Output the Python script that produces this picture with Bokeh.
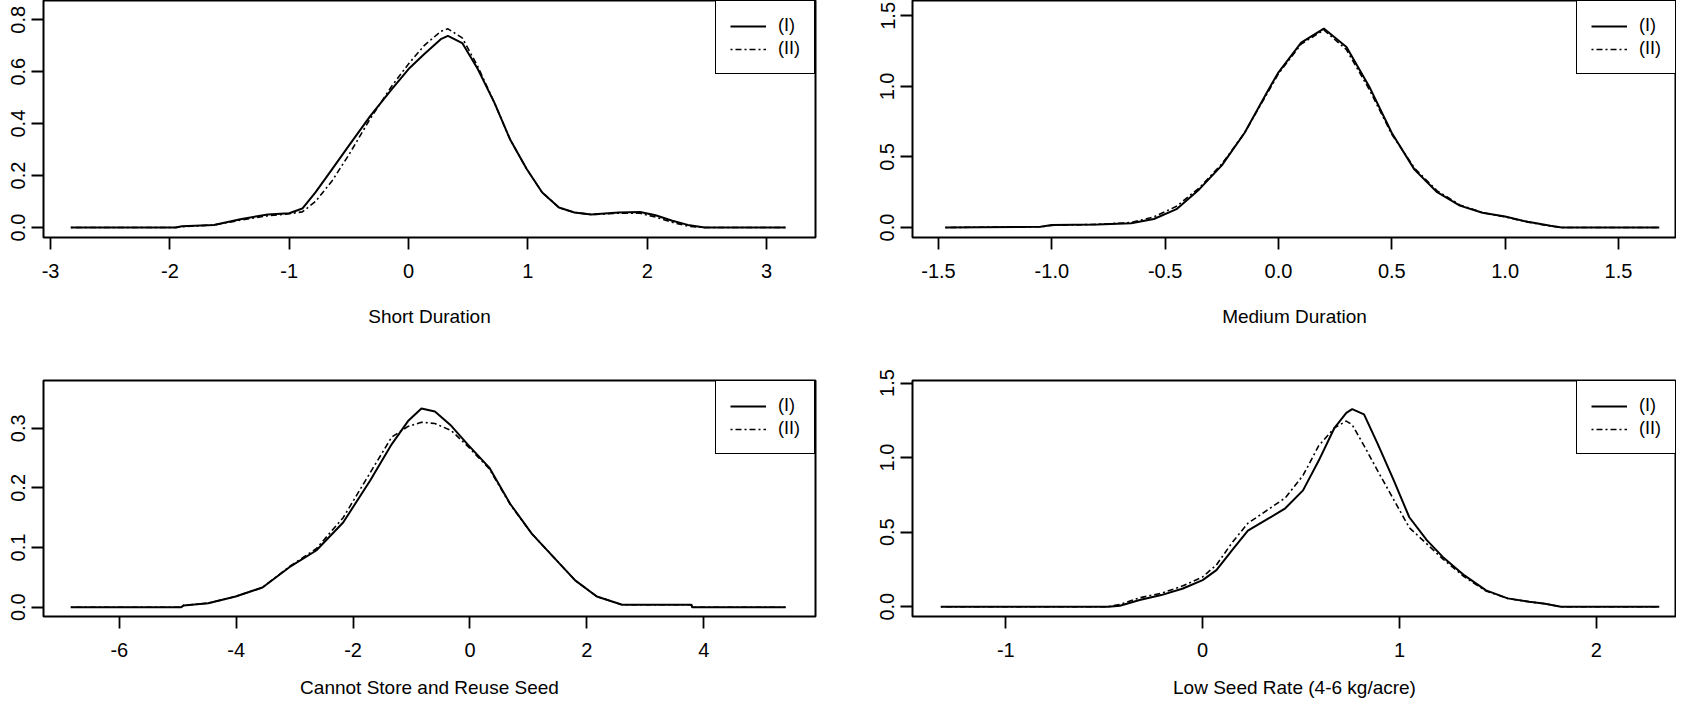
from bokeh.plotting import figure
from bokeh.layouts import column, row
from bokeh.models import Range1d, FixedTicker, Legend, LegendItem
from bokeh.embed import file_html
from bokeh.resources import INLINE

# ---------------- data ----------------
series_labels = ["(I)", "(II)"]

sd_x = [-2.83, -1.95, -1.9, -1.63, -1.41, -1.18, -1.0, -0.89, -0.78, -0.64, -0.5, -0.32, -0.14, 0.0,
        0.13, 0.27, 0.33, 0.45, 0.58, 0.72, 0.85, 0.99, 1.12, 1.26, 1.39, 1.53, 1.76, 1.94, 2.07,
        2.21, 2.34, 2.48, 3.16]
sd_1 = [0, 0, 0.005, 0.01, 0.032, 0.05, 0.055, 0.073, 0.135, 0.225, 0.315, 0.43, 0.533, 0.61,
        0.667, 0.725, 0.738, 0.71, 0.61, 0.48, 0.34, 0.225, 0.135, 0.077, 0.058, 0.05, 0.058, 0.06,
        0.047, 0.026, 0.01, 0, 0]
sd_2 = [0, 0, 0.003, 0.01, 0.028, 0.045, 0.053, 0.06, 0.1, 0.18, 0.28, 0.42, 0.545, 0.63,
        0.7, 0.755, 0.765, 0.73, 0.62, 0.48, 0.34, 0.225, 0.135, 0.077, 0.058, 0.05, 0.055, 0.055,
        0.04, 0.02, 0.005, 0, 0]

md_x = [-1.47, -1.05, -1.0, -0.8, -0.65, -0.55, -0.45, -0.35, -0.25, -0.15, -0.05, 0.0, 0.1, 0.2,
        0.3, 0.4, 0.5, 0.6, 0.7, 0.8, 0.9, 1.0, 1.1, 1.2, 1.25, 1.68]
md_1 = [0, 0.005, 0.017, 0.022, 0.03, 0.06, 0.13, 0.27, 0.44, 0.67, 0.96, 1.1, 1.31, 1.41,
        1.28, 1.0, 0.67, 0.41, 0.25, 0.155, 0.105, 0.078, 0.04, 0.012, 0, 0]
md_2 = [0, 0.005, 0.015, 0.022, 0.035, 0.075, 0.15, 0.28, 0.45, 0.67, 0.95, 1.09, 1.3, 1.4,
        1.26, 0.98, 0.66, 0.42, 0.26, 0.16, 0.105, 0.075, 0.038, 0.01, 0, 0]

cs_x = [-6.83, -4.94, -4.9, -4.48, -4.01, -3.55, -3.09, -2.63, -2.17, -1.71, -1.34, -1.06, -0.83,
        -0.6, -0.32, -0.04, 0.33, 0.69, 1.06, 1.43, 1.8, 2.17, 2.59, 2.63, 3.79, 3.8, 5.4]
cs_1 = [0, 0, 0.003, 0.0067, 0.018, 0.033, 0.067, 0.095, 0.142, 0.212, 0.273, 0.312, 0.333,
        0.328, 0.304, 0.273, 0.234, 0.173, 0.123, 0.084, 0.045, 0.018, 0.0045, 0.004, 0.004, 0, 0]
cs_2 = [0, 0, 0.003, 0.0067, 0.018, 0.033, 0.068, 0.098, 0.15, 0.225, 0.285, 0.303, 0.31,
        0.308, 0.296, 0.27, 0.232, 0.172, 0.123, 0.084, 0.045, 0.018, 0.0045, 0.004, 0.004, 0, 0]

ls_x = [-1.33, -0.48, -0.42, -0.32, -0.21, -0.1, 0.0, 0.07, 0.15, 0.23, 0.32, 0.42, 0.51, 0.59,
        0.67, 0.73, 0.76, 0.82, 0.89, 0.97, 1.05, 1.14, 1.22, 1.33, 1.44, 1.55, 1.66, 1.74, 1.82, 2.32]
ls_1 = [0, 0, 0.007, 0.045, 0.078, 0.122, 0.178, 0.245, 0.38, 0.51, 0.58, 0.66, 0.78, 0.98,
        1.2, 1.3, 1.325, 1.29, 1.09, 0.85, 0.6, 0.445, 0.334, 0.21, 0.11, 0.056, 0.033, 0.02, 0, 0]
ls_2 = [0, 0, 0.015, 0.06, 0.09, 0.14, 0.2, 0.28, 0.43, 0.56, 0.64, 0.73, 0.88, 1.08,
        1.2, 1.245, 1.22, 1.08, 0.91, 0.72, 0.53, 0.42, 0.32, 0.2, 0.105, 0.055, 0.033, 0.02, 0, 0]

titles = ["Short Duration", "Medium Duration", "Cannot Store and Reuse Seed", "Low Seed Rate (4-6 kg/acre)"]

sd_xticks = [-3, -2, -1, 0, 1, 2, 3]
sd_xlabels = ["-3", "-2", "-1", "0", "1", "2", "3"]
sd_yticks = [0, 0.2, 0.4, 0.6, 0.8]
sd_ylabels = ["0.0", "0.2", "0.4", "0.6", "0.8"]

md_xticks = [-1.5, -1.0, -0.5, 0.0, 0.5, 1.0, 1.5]
md_xlabels = ["-1.5", "-1.0", "-0.5", "0.0", "0.5", "1.0", "1.5"]
md_yticks = [0, 0.5, 1.0, 1.5]
md_ylabels = ["0.0", "0.5", "1.0", "1.5"]

cs_xticks = [-6, -4, -2, 0, 2, 4]
cs_xlabels = ["-6", "-4", "-2", "0", "2", "4"]
cs_yticks = [0, 0.1, 0.2, 0.3]
cs_ylabels = ["0.0", "0.1", "0.2", "0.3"]

ls_xticks = [-1, 0, 1, 2]
ls_xlabels = ["-1", "0", "1", "2"]
ls_yticks = [0, 0.5, 1.0, 1.5]
ls_ylabels = ["0.0", "0.5", "1.0", "1.5"]

FONT = "Liberation Sans"


def panel(xs, y1, y2, xr, yr, xticks, xlabels, yticks, ylabels, title,
          fw, fh, bl, br, bt, bb, title_standoff):
    p = figure(width=bl + fw + br, height=bt + fh + bb,
               x_range=Range1d(*xr), y_range=Range1d(*yr),
               output_backend="svg", toolbar_location=None,
               min_border_left=bl, min_border_right=br,
               min_border_top=bt, min_border_bottom=bb,
               background_fill_color="white", border_fill_color="white")
    p.xgrid.visible = False
    p.ygrid.visible = False
    p.outline_line_color = "black"
    p.outline_line_width = 2
    p.outline_line_alpha = 1

    r1 = p.line(xs, y1, line_color="black", line_width=2)
    r2 = p.line(xs, y2, line_color="black", line_width=1.6, line_dash="2 3 6 3")

    for ax in (p.xaxis[0], p.yaxis[0]):
        ax.axis_line_color = None
        ax.major_tick_line_color = "black"
        ax.major_tick_line_width = 1.8
        ax.major_tick_out = 12
        ax.major_tick_in = 0
        ax.minor_tick_line_color = None
        ax.major_label_text_font = FONT
        ax.major_label_text_font_size = "20px"
        ax.major_label_text_color = "black"

    p.xaxis.ticker = FixedTicker(ticks=xticks)
    p.xaxis.major_label_overrides = {t: l for t, l in zip(xticks, xlabels)}
    p.xaxis.major_label_standoff = 14
    p.xaxis.axis_label = title
    p.xaxis.axis_label_text_font = FONT
    p.xaxis.axis_label_text_font_size = "19px"
    p.xaxis.axis_label_text_font_style = "normal"
    p.xaxis.axis_label_text_color = "black"
    p.xaxis.axis_label_standoff = title_standoff

    p.yaxis.ticker = FixedTicker(ticks=yticks)
    p.yaxis.major_label_overrides = {t: l for t, l in zip(yticks, ylabels)}
    p.yaxis.major_label_orientation = "vertical"
    p.yaxis.major_label_standoff = 6

    legend = Legend(items=[LegendItem(label=series_labels[0], renderers=[r1]),
                           LegendItem(label=series_labels[1], renderers=[r2])],
                    location="top_right", margin=0, padding=14, spacing=2,
                    glyph_width=36, glyph_height=20, label_height=20,
                    label_standoff=12, label_text_font=FONT,
                    label_text_font_size="18px", label_text_color="black",
                    border_line_color="black", border_line_width=1.8,
                    border_line_alpha=1, background_fill_color="white",
                    background_fill_alpha=1)
    p.add_layout(legend)
    return p


p1 = panel(sd_x, sd_1, sd_2, (-3.059, 3.41), (-0.0385, 0.874), sd_xticks, sd_xlabels,
           sd_yticks, sd_ylabels, titles[0], 772, 237, 43, 20, 0, 113, 25)
p2 = panel(md_x, md_1, md_2, (-1.6147, 1.7559), (-0.071, 1.609), md_xticks, md_xlabels,
           md_yticks, md_ylabels, titles[1], 764, 237, 77, 0, 0, 113, 25)
p3 = panel(cs_x, cs_1, cs_2, (-7.297, 5.912), (-0.0156, 0.380), cs_xticks, cs_xlabels,
           cs_yticks, cs_ylabels, titles[2], 772, 236, 43, 20, 30, 90, 17)
p4 = panel(ls_x, ls_1, ls_2, (-1.474, 2.4075), (-0.0656, 1.517), ls_xticks, ls_xlabels,
           ls_yticks, ls_ylabels, titles[3], 764, 236, 77, 0, 30, 90, 17)

layout = column(row(p1, p2), row(p3, p4))
open("out.html", "w").write(file_html(layout, INLINE))
